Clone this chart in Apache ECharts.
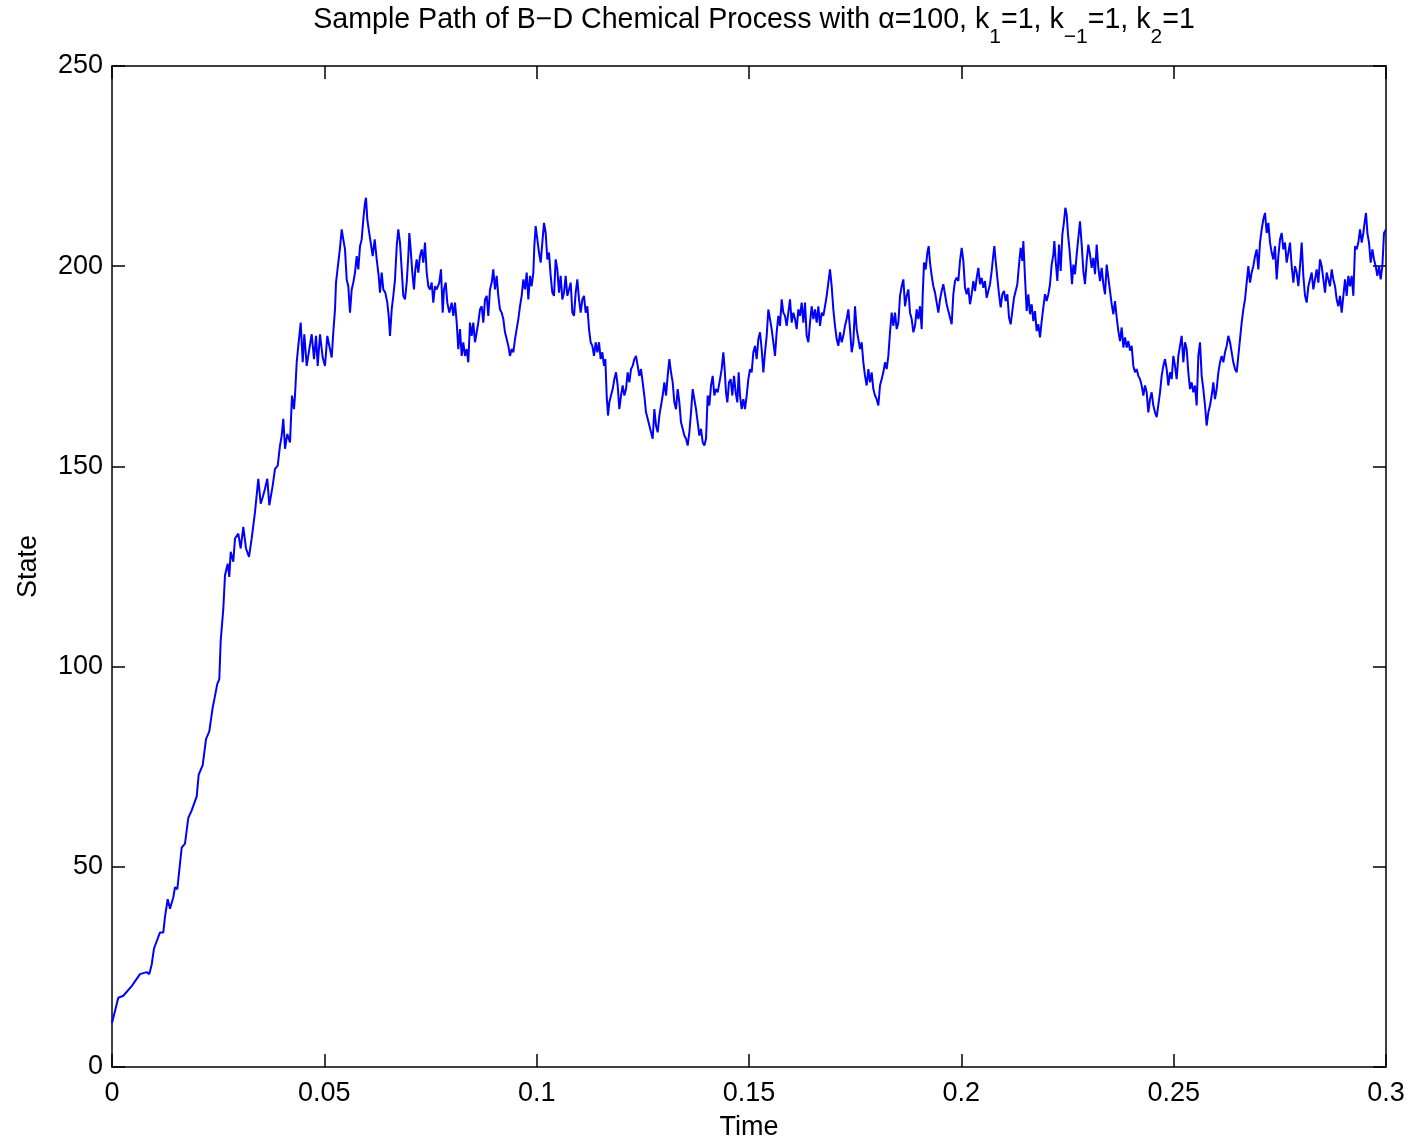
<!DOCTYPE html>
<html>
<head>
<meta charset="utf-8">
<script src="https://cdn.jsdelivr.net/npm/echarts@6/dist/echarts.min.js"></script>
<style>
  html, body { margin: 0; padding: 0; background: #fff; }
  #chart { width: 1412px; height: 1146px; }
</style>
</head>
<body>
<div id="chart"></div>
<script>
// Simulated birth–death chemical process: one sample path, state vs. time.
const xTicks = [0, 0.05, 0.1, 0.15, 0.2, 0.25, 0.3];
const yTicks = [0, 50, 100, 150, 200, 250];

const times = [
  // initial rise
  0, 0.001484, 0.002661, 0.004639, 0.006593, 0.008171, 0.008783, 0.009349, 0.009890, 0.011303,
  0.012080, 0.012480, 0.013116, 0.013658, 0.014435, 0.014835, 0.015377, 0.016413, 0.017190, 0.017967,
  0.018768, 0.019945, 0.020416, 0.021358, 0.022135, 0.022912, 0.023713, 0.024254, 0.024796, 0.025267,
  0.025597, 0.026209,
  // 0.026 - 0.091
  0.026609, 0.027245, 0.027622, 0.027951, 0.028564, 0.028964, 0.029741, 0.030306, 0.030918, 0.031554,
  0.032261, 0.032896, 0.033674, 0.034451, 0.035016, 0.035487, 0.036028, 0.036570, 0.037041, 0.037842,
  0.038383, 0.039019, 0.039560, 0.039961, 0.040338, 0.040738, 0.041280, 0.041915, 0.042386, 0.042857,
  0.043093, 0.043493, 0.043870, 0.044435, 0.044906, 0.045283, 0.045848, 0.046460, 0.047025, 0.047567,
  0.048038, 0.048438, 0.048980, 0.049615, 0.050157, 0.050699, 0.051170, 0.051735, 0.052112, 0.052512,
  0.052747, 0.053289, 0.053689, 0.054090, 0.054466, 0.054867, 0.055267, 0.055644, 0.056044, 0.056444,
  0.056821, 0.057221, 0.057622, 0.057998, 0.058399, 0.058799, 0.059176, 0.059576, 0.059812, 0.060118,
  0.060447, 0.060918, 0.061389, 0.061860, 0.062331, 0.062802, 0.063108, 0.063509, 0.063885, 0.064356,
  0.064827, 0.065157, 0.065463, 0.065863, 0.066240, 0.066641, 0.067041, 0.067418, 0.067818, 0.068218,
  0.068595, 0.068995, 0.069396, 0.069772, 0.070008, 0.070338, 0.070714, 0.071115, 0.071421, 0.071750,
  0.072127, 0.072528, 0.072928, 0.073305, 0.073705, 0.074105, 0.074482, 0.074882, 0.075283, 0.075659,
  0.076060, 0.076460, 0.077072, 0.077473, 0.077873, 0.078179, 0.078579, 0.078956, 0.079427, 0.079992,
  0.080369, 0.080769, 0.081170, 0.081546, 0.081947, 0.082347, 0.082724, 0.083124, 0.083524, 0.083901,
  0.084301, 0.084702, 0.085079, 0.085479, 0.085879, 0.086256, 0.086656, 0.087057, 0.087433, 0.087834,
  0.088234, 0.088611, 0.089011, 0.089412, 0.089788, 0.090188, 0.090589, 0.090966, 0.091366,
  // 0.091 - 0.143
  0.091759, 0.092151, 0.092544, 0.092936, 0.093329, 0.093721, 0.094114, 0.094506, 0.094899, 0.095291,
  0.095684, 0.096076, 0.096469, 0.096861, 0.097254, 0.097646, 0.098039, 0.098431, 0.098824, 0.099216,
  0.099452, 0.099766, 0.100158, 0.100551, 0.100943, 0.101336, 0.101728, 0.102121, 0.102513, 0.102906,
  0.103298, 0.103691, 0.104083, 0.104476, 0.104868, 0.105261, 0.105653, 0.106046, 0.106438, 0.106831,
  0.107223, 0.107616, 0.108008, 0.108401, 0.108793, 0.109186, 0.109578, 0.109971, 0.110363, 0.110756,
  0.111148, 0.111541, 0.111933, 0.112326, 0.112718, 0.113111, 0.113503, 0.113896, 0.114288, 0.114681,
  0.115073, 0.115466, 0.115858, 0.116172, 0.116486, 0.116800, 0.117114, 0.117507, 0.117899, 0.118292,
  0.118684, 0.119077, 0.119469, 0.119862, 0.120254, 0.120647, 0.121039, 0.121432, 0.121824, 0.122217,
  0.122609, 0.123002, 0.123394, 0.123787, 0.124179, 0.124572, 0.124964, 0.125357, 0.125749, 0.126142,
  0.126534, 0.126927, 0.127319, 0.127712, 0.128104, 0.128497, 0.128889, 0.129282, 0.129674, 0.130067,
  0.130459, 0.130852, 0.131244, 0.131637, 0.132029, 0.132422, 0.132814, 0.133207, 0.133599, 0.133992,
  0.134384, 0.134777, 0.135169, 0.135562, 0.135954, 0.136347, 0.136739, 0.137132, 0.137524, 0.137917,
  0.138309, 0.138702, 0.139094, 0.139487, 0.139879, 0.140272, 0.140664, 0.141057, 0.141449, 0.141842,
  0.142234, 0.142627, 0.143176,
  // 0.143 - 0.195
  0.143564, 0.143956, 0.144270, 0.144584, 0.144898, 0.145291, 0.145683, 0.146076, 0.146468, 0.146861,
  0.147253, 0.147567, 0.147881, 0.148274, 0.148666, 0.149059, 0.149451, 0.149844, 0.150236, 0.150629,
  0.151021, 0.151414, 0.151806, 0.152199, 0.152591, 0.152984, 0.153376, 0.153769, 0.154161, 0.154554,
  0.154946, 0.155339, 0.155731, 0.156124, 0.156516, 0.156909, 0.157301, 0.157694, 0.158086, 0.158479,
  0.158871, 0.159264, 0.159656, 0.160049, 0.160441, 0.160834, 0.161226, 0.161619, 0.162011, 0.162404,
  0.162796, 0.163189, 0.163581, 0.163974, 0.164366, 0.164759, 0.165151, 0.165544, 0.165936, 0.166329,
  0.166721, 0.167114, 0.167506, 0.167899, 0.168291, 0.168684, 0.169076, 0.169469, 0.169861, 0.170254,
  0.170646, 0.171039, 0.171431, 0.171824, 0.172216, 0.172609, 0.173001, 0.173394, 0.173786, 0.174179,
  0.174571, 0.174964, 0.175356, 0.175749, 0.176141, 0.176534, 0.176926, 0.177319, 0.177711, 0.178104,
  0.178496, 0.178889, 0.179281, 0.179674, 0.180066, 0.180459, 0.180851, 0.181244, 0.181636, 0.182029,
  0.182421, 0.182814, 0.183206, 0.183599, 0.183991, 0.184384, 0.184776, 0.185169, 0.185561, 0.185954,
  0.186346, 0.186739, 0.187131, 0.187524, 0.187916, 0.188309, 0.188701, 0.189094, 0.189486, 0.189879,
  0.190271, 0.190664, 0.190899, 0.191213, 0.191606, 0.191998, 0.192312, 0.192626, 0.193019, 0.193411,
  0.193804, 0.194196, 0.194589, 0.194981,
  // 0.195 - 0.240
  0.195370, 0.195762, 0.196155, 0.196547, 0.196940, 0.197332, 0.197725, 0.198117, 0.198510, 0.198902,
  0.199295, 0.199687, 0.200080, 0.200472, 0.200865, 0.201257, 0.201650, 0.202042, 0.202435, 0.202827,
  0.203220, 0.203612, 0.204005, 0.204397, 0.204790, 0.205182, 0.205575, 0.205967, 0.206360, 0.206752,
  0.207145, 0.207537, 0.207772, 0.208086, 0.208479, 0.208871, 0.209264, 0.209656, 0.210049, 0.210441,
  0.210834, 0.211226, 0.211619, 0.212011, 0.212404, 0.212796, 0.213189, 0.213581, 0.213974, 0.214366,
  0.214602, 0.214994, 0.215387, 0.215779, 0.216172, 0.216564, 0.216957, 0.217349, 0.217742, 0.218134,
  0.218527, 0.218919, 0.219312, 0.219704, 0.220097, 0.220489, 0.220882, 0.221274, 0.221667, 0.221902,
  0.222216, 0.222609, 0.223001, 0.223394, 0.223786, 0.224179, 0.224493, 0.224807, 0.225121, 0.225435,
  0.225749, 0.226063, 0.226377, 0.226770, 0.227162, 0.227555, 0.227947, 0.228340, 0.228732, 0.229125,
  0.229517, 0.229910, 0.230302, 0.230695, 0.231087, 0.231480, 0.231872, 0.232265, 0.232657, 0.233050,
  0.233442, 0.233835, 0.234227, 0.234620, 0.235012, 0.235405, 0.235797, 0.236190, 0.236582, 0.236975,
  0.237367, 0.237760, 0.238152, 0.238545, 0.238937, 0.239330, 0.239722,
  // 0.240 - 0.246
  0.240112, 0.240504, 0.240897, 0.241289, 0.241682, 0.242074, 0.242467, 0.242859, 0.243252, 0.243644,
  0.244037, 0.244429, 0.244822, 0.245214, 0.245607, 0.245999,
  // 0.246 - 0.3
  0.246782, 0.247175, 0.247567, 0.247960, 0.248352, 0.248745, 0.249137, 0.249530, 0.249922, 0.250315,
  0.250707, 0.251100, 0.251492, 0.251885, 0.252277, 0.252670, 0.253062, 0.253455, 0.253847, 0.254240,
  0.254632, 0.255025, 0.255417, 0.255810, 0.256202, 0.256595, 0.256987, 0.257380, 0.257772, 0.258165,
  0.258557, 0.258950, 0.259342, 0.259735, 0.260127, 0.260520, 0.260912, 0.261305, 0.261697, 0.262090,
  0.262482, 0.262875, 0.263267, 0.263660, 0.264052, 0.264445, 0.264837, 0.265230, 0.265622, 0.266015,
  0.266407, 0.266800, 0.267192, 0.267585, 0.267977, 0.268370, 0.268762, 0.269155, 0.269547, 0.269940,
  0.270332, 0.270725, 0.271117, 0.271510, 0.271902, 0.272295, 0.272687, 0.273080, 0.273472, 0.273865,
  0.274257, 0.274650, 0.275042, 0.275435, 0.275827, 0.276220, 0.276612, 0.277005, 0.277397, 0.277790,
  0.278182, 0.278575, 0.278967, 0.279360, 0.279752, 0.280145, 0.280537, 0.280930, 0.281322, 0.281715,
  0.282107, 0.282500, 0.282892, 0.283285, 0.283677, 0.284070, 0.284462, 0.284855, 0.285247, 0.285640,
  0.286032, 0.286425, 0.286817, 0.287210, 0.287602, 0.287995, 0.288387, 0.288780, 0.289172, 0.289565,
  0.289957, 0.290350, 0.290742, 0.291135, 0.291527, 0.291920, 0.292312, 0.292705, 0.293097, 0.293490,
  0.293882, 0.294275, 0.294667, 0.295060, 0.295295, 0.295609, 0.296002, 0.296394, 0.296787, 0.297179,
  0.297572, 0.297964, 0.298357, 0.298749, 0.299142, 0.299534, 0.3
];

const states = [
  // initial rise
  11, 17.3, 17.8, 20.2, 23.2, 23.7, 23.2, 25.6, 29.6, 33.6,
  33.6, 37.5, 41.9, 39.5, 42.4, 44.9, 44.4, 54.8, 55.8, 62.2,
  64.1, 67.6, 73, 75.4, 81.9, 83.8, 89.8, 92.7, 95.7, 96.9,
  106.5, 114.4,
  // 0.026 - 0.091
  122.8, 125.7, 122.4, 128.7, 126.2, 132, 133.2, 129.5, 134.9, 129.5,
  127.4, 132, 138.6, 146.9, 140.7, 142.3, 144.4, 146.9, 140.3, 145.2,
  149.4, 150.2, 155.2, 157.7, 161.9, 154.4, 158.1, 156, 167.7, 164.3,
  167.7, 176, 180.1, 185.9, 176, 183, 175.1, 179.3, 183, 176.8,
  182.6, 175.1, 183, 177.2, 175.1, 182.6, 180.1, 177.2, 183.5, 189.2,
  195.9, 200.9, 204.6, 209.2, 206.7, 204.2, 196.7, 195, 188.4, 194.2,
  195.9, 198.4, 202.5, 199.2, 205, 206.7, 211.7, 215.8, 217.1, 211.7,
  209.2, 205.9, 202.5, 206.7, 201.7, 197.6, 193.4, 198.4, 194.2, 193.4,
  190.9, 187.6, 182.6, 189.2, 192.6, 196.7, 205, 209.2, 205.9, 199.2,
  192.6, 191.7, 195.9, 202.5, 208.3, 204.2, 198.4, 194.2, 199.2, 201.7,
  198.4, 202.5, 204.2, 200.9, 205.9, 198.4, 195, 194.2, 195.9, 190.9,
  195, 194.2, 195.9, 199.2, 188.4, 194.2, 195.9, 190.9, 188.4, 190.9,
  187.6, 190.9, 185.9, 179.3, 184.3, 177.6, 181, 177.6, 179.3, 176,
  185.9, 182.6, 185.9, 181, 183.5, 185.9, 189.2, 190, 185.9, 191.7,
  192.6, 187.6, 194.2, 195.9, 199.2, 194.2, 197.6, 192.6, 189.2,
  // 0.091 - 0.143
  188.4, 186.8, 183.5, 181.8, 180.1, 177.6, 179.3, 178.5, 181.8, 184.3,
  186.8, 190, 192.6, 196.7, 194.2, 198.4, 191.7, 197.6, 195, 198.4,
  205, 210, 206.7, 203.4, 200.9, 205.9, 210.8, 208.3, 201.7, 203.4,
  197.6, 193.4, 192.6, 201.7, 199.2, 193.4, 197.6, 191.7, 193.4, 197.6,
  192.6, 194.2, 195.9, 188.4, 187.6, 193.4, 196.7, 191.7, 188.4, 191.7,
  192.6, 188.4, 190, 184.3, 181, 180.1, 177.6, 181, 178.5, 181,
  176.8, 178.5, 175.1, 176.8, 167.7, 162.7, 166, 167.7, 169.3, 171.8,
  173.5, 170.2, 164.3, 167.7, 170.2, 167.7, 169.3, 173.5, 171, 174.3,
  175.1, 176.8, 177.6, 175.1, 172.6, 174.3, 171, 167.7, 163.5, 161.9,
  160.2, 158.5, 156.9, 164.3, 160.2, 158.5, 162.7, 165.2, 167.7, 171,
  167.7, 172.6, 176.8, 173.5, 171, 166, 164.3, 169.3, 166, 161,
  159.4, 157.7, 156.9, 155.2, 158.5, 163.5, 169.3, 166.8, 164.3, 161,
  157.7, 159.4, 156, 155.2, 156.9, 167.7, 165.2, 170.2, 172.6, 167.7,
  169.3, 168.5, 171.8,
  // 0.143 - 0.195
  174.3, 178.5, 174.3, 168.5, 166, 171, 171.8, 167.7, 172.6, 168.5,
  166, 173.5, 167.7, 164.3, 166.8, 164.3, 167.7, 171.8, 174.3, 173.5,
  178.5, 180.1, 176.8, 181.8, 183.5, 179.3, 173.5, 178.5, 182.6, 189.2,
  186.8, 184.3, 181, 177.6, 183.5, 187.6, 185.1, 191.7, 188.4, 187.6,
  185.1, 188.4, 191.7, 185.9, 188.4, 186.8, 184.3, 189.2, 187.6, 190.9,
  185.9, 190.9, 182.6, 181, 185.9, 190, 186.8, 189.2, 185.9, 190,
  185.1, 188.4, 187.6, 190, 192.6, 195.9, 199.2, 195, 189.2, 185.1,
  181.8, 180.1, 183.5, 181, 182.6, 185.1, 186.8, 189.2, 184.3, 178.5,
  181, 190, 184.3, 181.8, 179.3, 181, 176, 172.6, 170.2, 174.3,
  171, 173.5, 169.3, 167.7, 166.8, 165.2, 170.2, 171.8, 173.5, 176,
  174.3, 177.6, 183.5, 188.4, 185.1, 188.4, 184.3, 185.9, 192.6, 195,
  196.7, 190, 192.6, 194.2, 188.4, 186.8, 183.5, 185.1, 189.2, 186.8,
  190, 184.3, 192.6, 200.9, 199.2, 203.4, 205, 200.9, 197.6, 195,
  193.4, 190.9, 188.4, 191.7,
  // 0.195 - 0.240
  193.8, 195.5, 193, 190.5, 188.8, 187.2, 185.5, 193, 196.3, 197.1,
  196.3, 201.3, 204.6, 201.3, 194.6, 193, 194.6, 190.5, 193, 196.3,
  193.8, 197.1, 199.6, 195.5, 197.1, 194.6, 196.3, 192.1, 193.8, 195.5,
  198.8, 202.9, 205, 201.3, 197.1, 193, 189.7, 193, 193.8, 191.3,
  193, 187.2, 185.5, 188.8, 192.1, 193.8, 195.5, 200.4, 204.6, 201.3,
  206.3, 197.1, 188.8, 193, 188, 190.5, 186.3, 188.8, 183.8, 185.5,
  182.2, 186.3, 189.7, 193, 191.3, 193, 195.5, 200.4, 202.9, 206.3,
  201.3, 196.3, 205.4, 198.8, 207.9, 211.2, 214.6, 212.9, 207.9, 204.6,
  200.4, 195.5, 200.4, 198, 202.9, 207.1, 211.2, 205.4, 198.8, 195.5,
  201.3, 205.4, 202.9, 199.6, 202.1, 198, 205.4, 199.6, 196.3, 199.6,
  195.5, 193, 200.4, 197.1, 193.8, 190.5, 188, 191.3, 187.2, 183.8,
  181.3, 184.7, 179.7, 182.2, 179.7, 181.3, 178.9,
  // 0.240 - 0.246
  180.1, 175.1, 173.5, 174.3, 172.6, 171.8, 170.2, 167.7, 170.2, 168.5,
  163.5, 166.8, 168.5, 165.2, 163.5, 162.3,
  // 0.246 - 0.3
  168.5, 172.6, 175.1, 176.8, 174.3, 170.2, 173.5, 171.8, 177.6, 175.1,
  171.8, 177.6, 180.1, 182.6, 176, 181, 179.3, 173.5, 169.3, 171,
  168.5, 170.2, 165.2, 177.6, 181, 172.6, 169.3, 165.2, 160.2, 163.5,
  165.2, 167.7, 171, 166.8, 169.3, 173.5, 176, 177.6, 176, 178.5,
  180.1, 182.6, 181, 178.5, 176, 174.3, 173.5, 177.6, 181.8, 185.9,
  189.2, 191.7, 195.9, 200, 195.9, 198.4, 200, 202.5, 204.2, 199.2,
  205.9, 209.2, 211.7, 213.3, 208.3, 210.8, 205.9, 203.4, 201.7, 205,
  196.7, 202.5, 206.7, 208.3, 204.2, 205.9, 200.9, 203.4, 205.9, 200,
  195.9, 200, 198.4, 195, 200, 205.9, 197.6, 192.6, 190.9, 195,
  196.7, 198.4, 194.2, 196.7, 199.2, 195.9, 201.7, 200, 196.7, 193.4,
  198.4, 196.7, 195, 199.2, 196.7, 195, 191.7, 190, 192.6, 188.4,
  192.6, 196.7, 192.6, 197.6, 195, 197.6, 192.6, 205, 204.2, 205.9,
  209.2, 205.9, 208.3, 211.7, 213.3, 208.3, 205.9, 200.9, 204.2, 201.7,
  200, 197.6, 200, 196.7, 200, 208.3, 209.2
];

const titleText = 'Sample Path of B\u2212D Chemical Process with \u03B1=100, k';
const fontFamily = '"Liberation Sans", Arial, Helvetica, sans-serif';

const pathData = times.map((t, i) => [t, states[i]]);

const chart = echarts.init(document.getElementById('chart'), null, { renderer: 'canvas' });

const xMin = xTicks[0], xMax = xTicks[xTicks.length - 1], xStep = xTicks[1] - xTicks[0];
const yMin = yTicks[0], yMax = yTicks[yTicks.length - 1], yStep = yTicks[1] - yTicks[0];

const frameLine = { show: true, onZero: false, lineStyle: { color: '#000', width: 1.5 } };
const innerTick = { show: true, inside: true, length: 13, lineStyle: { color: '#000', width: 1.5 } };
const labelStyle = { color: '#000', fontSize: 27, fontFamily: fontFamily, fontWeight: 'normal' };

function fmtX(v) { return String(+v.toFixed(2)); }

chart.setOption({
  backgroundColor: '#fff',
  animation: false,
  title: {
    text: '{n|' + titleText + '}{s|1}{n|=1, k}{s|\u22121}{n|=1, k}{s|2}{n|=1}',
    left: 749,
    top: 1,
    textAlign: 'center',
    textStyle: {
      fontWeight: 'normal',
      rich: {
        n: { fontSize: 28.6, fontFamily: fontFamily, fontWeight: 'normal', color: '#000', lineHeight: 34, verticalAlign: 'top' },
        s: { fontSize: 21, fontFamily: fontFamily, fontWeight: 'normal', color: '#000', lineHeight: 21, verticalAlign: 'top', padding: [21, 0, 0, 0] }
      }
    }
  },
  grid: { left: 112, top: 66, right: 26, bottom: 76, containLabel: false },
  xAxis: [
    {
      type: 'value', position: 'bottom', min: xMin, max: xMax, interval: xStep,
      axisLine: frameLine, axisTick: innerTick,
      axisLabel: Object.assign({ margin: 13, formatter: fmtX }, labelStyle),
      splitLine: { show: false },
      name: 'Time', nameLocation: 'middle', nameGap: 47,
      nameTextStyle: labelStyle
    },
    {
      type: 'value', position: 'top', min: xMin, max: xMax, interval: xStep,
      axisLine: frameLine, axisTick: innerTick,
      axisLabel: { show: false }, splitLine: { show: false }
    }
  ],
  yAxis: [
    {
      type: 'value', position: 'left', min: yMin, max: yMax, interval: yStep,
      axisLine: frameLine, axisTick: innerTick,
      axisLabel: Object.assign({ margin: 9 }, labelStyle),
      splitLine: { show: false },
      name: 'State', nameLocation: 'middle', nameGap: 70,
      nameTextStyle: labelStyle
    },
    {
      type: 'value', position: 'right', min: yMin, max: yMax, interval: yStep,
      axisLine: frameLine, axisTick: innerTick,
      axisLabel: { show: false }, splitLine: { show: false }
    }
  ],
  series: [
    {
      type: 'line',
      xAxisIndex: 0,
      yAxisIndex: 0,
      data: pathData,
      showSymbol: false,
      symbol: 'none',
      sampling: null,
      lineStyle: { color: '#0000ff', width: 2 },
      emphasis: { disabled: true },
      z: 1
    }
  ]
});
</script>
</body>
</html>
